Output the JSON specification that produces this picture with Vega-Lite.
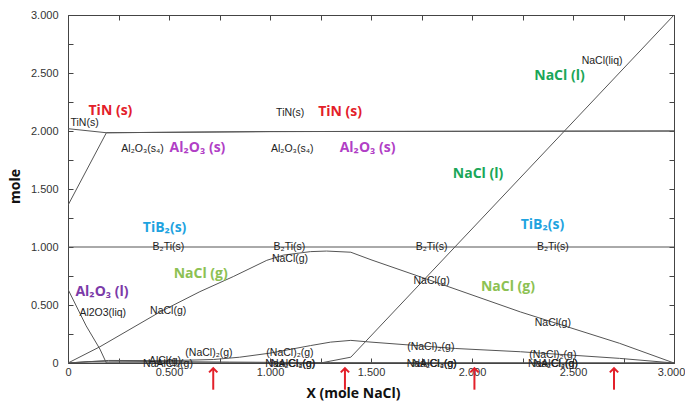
{
  "$schema": "https://vega.github.io/schema/vega-lite/v6.json",
  "width": 606,
  "height": 348,
  "autosize": {"type": "none"},
  "padding": {"left": 68, "top": 15, "right": 11, "bottom": 40},
  "background": "white",
  "config": {
    "view": {"stroke": "#444", "strokeWidth": 1},
    "axis": {
      "domain": false,
      "grid": false,
      "labelFont": "Liberation Sans",
      "labelFontSize": 11,
      "labelColor": "#333",
      "tickColor": "#444",
      "tickSize": -5,
      "titleFont": "Open Sans",
      "titleFontWeight": "bold",
      "titleFontSize": 14,
      "titleColor": "#111"
    }
  },
  "datasets": {
    "lines": [
      {"series": "TiN(s)", "x": 0, "y": 2.02},
      {"series": "TiN(s)", "x": 0.19, "y": 1.985},
      {"series": "TiN(s)", "x": 1.0, "y": 1.995},
      {"series": "TiN(s)", "x": 3.0, "y": 2.0},
      {"series": "Al2O3(s)", "x": 0, "y": 1.36},
      {"series": "Al2O3(s)", "x": 0.19, "y": 1.985},
      {"series": "Al2O3(s)", "x": 1.0, "y": 1.995},
      {"series": "Al2O3(s)", "x": 3.0, "y": 2.0},
      {"series": "B2Ti(s)", "x": 0, "y": 1.0},
      {"series": "B2Ti(s)", "x": 3.0, "y": 1.0},
      {"series": "Al2O3(liq)", "x": 0, "y": 0.635},
      {"series": "Al2O3(liq)", "x": 0.09, "y": 0.32},
      {"series": "Al2O3(liq)", "x": 0.158, "y": 0.12},
      {"series": "Al2O3(liq)", "x": 0.19, "y": 0.0},
      {"series": "Al2O3(liq)", "x": 3.0, "y": 0.0},
      {"series": "NaCl(g)", "x": 0, "y": 0},
      {"series": "NaCl(g)", "x": 0.158, "y": 0.14},
      {"series": "NaCl(g)", "x": 0.455, "y": 0.44},
      {"series": "NaCl(g)", "x": 0.653, "y": 0.615},
      {"series": "NaCl(g)", "x": 0.818, "y": 0.745},
      {"series": "NaCl(g)", "x": 0.984, "y": 0.885},
      {"series": "NaCl(g)", "x": 1.066, "y": 0.93},
      {"series": "NaCl(g)", "x": 1.2, "y": 0.96},
      {"series": "NaCl(g)", "x": 1.28, "y": 0.965},
      {"series": "NaCl(g)", "x": 1.4, "y": 0.955},
      {"series": "NaCl(g)", "x": 1.5, "y": 0.89},
      {"series": "NaCl(g)", "x": 1.79, "y": 0.715},
      {"series": "NaCl(g)", "x": 2.24, "y": 0.44},
      {"series": "NaCl(g)", "x": 2.73, "y": 0.17},
      {"series": "NaCl(g)", "x": 3.0, "y": 0},
      {"series": "NaCl(liq)", "x": 0, "y": 0},
      {"series": "NaCl(liq)", "x": 1.25, "y": 0},
      {"series": "NaCl(liq)", "x": 1.4, "y": 0.05},
      {"series": "NaCl(liq)", "x": 3.0, "y": 3.0},
      {"series": "(NaCl)2(g)", "x": 0, "y": 0},
      {"series": "(NaCl)2(g)", "x": 0.2, "y": 0.022},
      {"series": "(NaCl)2(g)", "x": 0.5, "y": 0.02},
      {"series": "(NaCl)2(g)", "x": 0.72, "y": 0.03},
      {"series": "(NaCl)2(g)", "x": 0.85, "y": 0.05},
      {"series": "(NaCl)2(g)", "x": 1.0, "y": 0.085},
      {"series": "(NaCl)2(g)", "x": 1.2, "y": 0.15},
      {"series": "(NaCl)2(g)", "x": 1.3, "y": 0.18},
      {"series": "(NaCl)2(g)", "x": 1.4, "y": 0.195},
      {"series": "(NaCl)2(g)", "x": 1.5, "y": 0.18},
      {"series": "(NaCl)2(g)", "x": 1.92, "y": 0.125},
      {"series": "(NaCl)2(g)", "x": 2.24, "y": 0.097},
      {"series": "(NaCl)2(g)", "x": 2.73, "y": 0.04},
      {"series": "(NaCl)2(g)", "x": 3.0, "y": 0},
      {"series": "minor", "x": 0, "y": 0},
      {"series": "minor", "x": 0.1, "y": 0.012},
      {"series": "minor", "x": 0.2, "y": 0.016},
      {"series": "minor", "x": 0.5, "y": 0.012},
      {"series": "minor", "x": 0.8, "y": 0.008},
      {"series": "minor", "x": 1.3, "y": 0.003},
      {"series": "minor", "x": 3.0, "y": 0}
    ],
    "small": [
      {"text": "TiN(s)", "x": 0.082, "y": 2.07},
      {"text": "TiN(s)", "x": 1.1, "y": 2.155},
      {"text": "Al₂O₃(s₄)", "x": 0.369, "y": 1.845},
      {"text": "Al₂O₃(s₄)", "x": 1.11, "y": 1.845},
      {"text": "B₂Ti(s)", "x": 0.497, "y": 1.0},
      {"text": "B₂Ti(s)", "x": 1.096, "y": 1.0},
      {"text": "B₂Ti(s)", "x": 1.8, "y": 1.0},
      {"text": "B₂Ti(s)", "x": 2.4, "y": 1.0},
      {"text": "NaCl(g)", "x": 1.099, "y": 0.894},
      {"text": "NaCl(g)", "x": 0.496, "y": 0.451},
      {"text": "NaCl(g)", "x": 1.8, "y": 0.71},
      {"text": "NaCl(g)", "x": 2.4, "y": 0.347},
      {"text": "Al2O3(liq)", "x": 0.172, "y": 0.428},
      {"text": "NaCl(liq)", "x": 2.644, "y": 2.606},
      {"text": "(NaCl)₂(g)", "x": 0.698, "y": 0.083},
      {"text": "(NaCl)₂(g)", "x": 1.099, "y": 0.083},
      {"text": "(NaCl)₂(g)", "x": 1.796, "y": 0.14},
      {"text": "(NaCl)₂(g)", "x": 2.4, "y": 0.069},
      {"text": "NaAlCl₄(g)", "x": 0.495, "y": -0.01},
      {"text": "AlCl(g)", "x": 0.48, "y": 0.02},
      {"text": "NaAlCl₄(g)", "x": 1.1, "y": -0.005},
      {"text": "Na₂Cl₂(g)", "x": 1.115, "y": -0.005},
      {"text": "NaAlCl₄(g)", "x": 1.8, "y": -0.005},
      {"text": "Na₂Cl₂(g)", "x": 1.815, "y": -0.005},
      {"text": "NaAlCl₄(g)", "x": 2.4, "y": -0.005},
      {"text": "Na₂Cl₂(g)", "x": 2.415, "y": -0.005}
    ],
    "big": [
      {"text": "TiN (s)", "phase": "TiN", "x": 0.21, "y": 2.17},
      {"text": "TiN (s)", "phase": "TiN", "x": 1.347, "y": 2.164},
      {"text": "Al₂O₃ (s)", "phase": "Al2O3s", "x": 0.641, "y": 1.853},
      {"text": "Al₂O₃ (s)", "phase": "Al2O3s", "x": 1.483, "y": 1.853},
      {"text": "NaCl (l)", "phase": "NaCll", "x": 2.433, "y": 2.474},
      {"text": "NaCl (l)", "phase": "NaCll", "x": 2.03, "y": 1.629},
      {"text": "TiB₂(s)", "phase": "TiB2", "x": 0.478, "y": 1.161},
      {"text": "TiB₂(s)", "phase": "TiB2", "x": 2.349, "y": 1.19},
      {"text": "NaCl (g)", "phase": "NaClg", "x": 0.657, "y": 0.767},
      {"text": "NaCl (g)", "phase": "NaClg", "x": 2.178, "y": 0.652},
      {"text": "Al₂O₃ (l)", "phase": "Al2O3l", "x": 0.168, "y": 0.615}
    ],
    "arrows": [
      {"x": 0.719, "y": -0.045, "y2": -0.23},
      {"x": 1.371, "y": -0.045, "y2": -0.23},
      {"x": 2.012, "y": -0.045, "y2": -0.23},
      {"x": 2.703, "y": -0.045, "y2": -0.23}
    ]
  },
  "resolve": {"axis": {"x": "independent", "y": "independent"}},
  "layer": [
    {
      "data": {"name": "lines"},
      "mark": {"type": "line", "stroke": "#555", "strokeWidth": 1, "clip": true},
      "encoding": {
        "x": {
          "field": "x", "type": "quantitative",
          "scale": {"domain": [0, 3], "nice": false, "zero": false},
          "axis": {
            "orient": "bottom",
            "values": [0, 0.25, 0.5, 0.75, 1, 1.25, 1.5, 1.75, 2, 2.25, 2.5, 2.75, 3],
            "labelExpr": "datum.value % 0.5 == 0 ? (datum.value == 0 ? '0' : format(datum.value, '.3f')) : ''",
            "labelPadding": 8,
            "labelOffset": {"condition": {"test": "datum.value == 3", "value": -3}, "value": 0},
            "labelOverlap": false,
            "labelFlush": false,
            "title": "X (mole NaCl)",
            "titleX": 285,
            "titleY": 30,
            "titleBaseline": "middle",
            "titleAnchor": "middle"
          }
        },
        "y": {
          "field": "y", "type": "quantitative",
          "scale": {"domain": [0, 3], "nice": false, "zero": false},
          "axis": {
            "orient": "left",
            "values": [0, 0.25, 0.5, 0.75, 1, 1.25, 1.5, 1.75, 2, 2.25, 2.5, 2.75, 3],
            "labelExpr": "datum.value % 0.5 == 0 ? (datum.value == 0 ? '0' : format(datum.value, '.3f')) : ''",
            "labelPadding": 15,
            "labelOverlap": false,
            "labelFlush": false,
            "title": "mole",
            "titleX": -53,
            "titleY": 171,
            "titleAngle": -90,
            "titleBaseline": "middle",
            "titleAnchor": "middle"
          }
        },
        "detail": {"field": "series"}
      }
    },
    {
      "data": {"name": "small"},
      "mark": {"type": "text", "font": "Liberation Sans", "fontSize": 10.5, "fill": "#222", "align": "center", "baseline": "middle"},
      "encoding": {
        "x": {"field": "x", "type": "quantitative", "axis": null},
        "y": {"field": "y", "type": "quantitative", "axis": null},
        "text": {"field": "text"}
      }
    },
    {
      "data": {"name": "big"},
      "mark": {"type": "text", "font": "Open Sans", "fontSize": 14, "fontWeight": "bold", "align": "center", "baseline": "middle"},
      "encoding": {
        "x": {"field": "x", "type": "quantitative", "axis": null},
        "y": {"field": "y", "type": "quantitative", "axis": null},
        "text": {"field": "text"},
        "color": {
          "field": "phase", "type": "nominal", "legend": null,
          "scale": {
            "domain": ["TiN", "Al2O3s", "NaCll", "TiB2", "NaClg", "Al2O3l"],
            "range": ["#e3202a", "#b13fc6", "#1aa658", "#1fa3df", "#8cc152", "#7b3aa8"]
          }
        }
      }
    },
    {
      "data": {"name": "arrows"},
      "mark": {"type": "rule", "stroke": "#e3202a", "strokeWidth": 2},
      "encoding": {
        "x": {
          "field": "x", "type": "quantitative",
          "axis": {
            "orient": "top",
            "values": [0, 0.25, 0.5, 0.75, 1, 1.25, 1.5, 1.75, 2, 2.25, 2.5, 2.75, 3],
            "labels": false, "title": null
          }
        },
        "y": {
          "field": "y", "type": "quantitative",
          "axis": {
            "orient": "right",
            "values": [0, 0.25, 0.5, 0.75, 1, 1.25, 1.5, 1.75, 2, 2.25, 2.5, 2.75, 3],
            "labels": false, "title": null
          }
        },
        "y2": {"field": "y2"}
      }
    },
    {
      "data": {"name": "arrows"},
      "mark": {"type": "point", "shape": "M-1,1L0,0L1,1", "size": 70, "filled": false, "stroke": "#e3202a", "strokeWidth": 2, "opacity": 1},
      "encoding": {
        "x": {"field": "x", "type": "quantitative", "axis": null},
        "y": {"field": "y", "type": "quantitative", "axis": null}
      }
    }
  ]
}
